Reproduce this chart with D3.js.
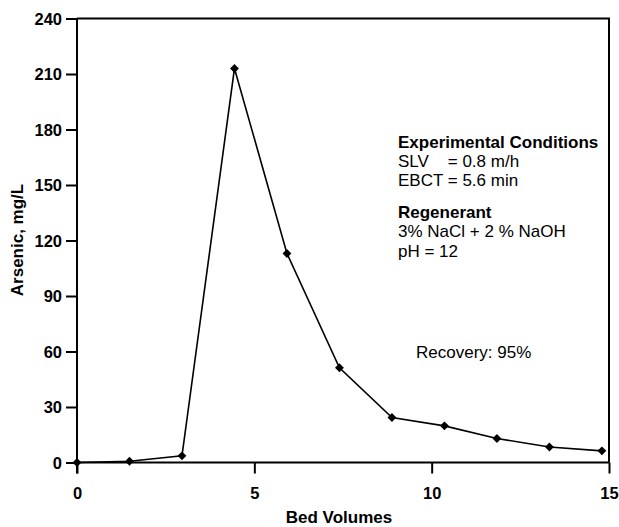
<!DOCTYPE html>
<html>
<head>
<meta charset="utf-8">
<script src="https://cdn.jsdelivr.net/npm/d3@7"></script>
<style>
  body { margin: 0; background: #fff; }
  text { font-family: "Liberation Sans", Arial, sans-serif; fill: #000; }
</style>
</head>
<body>
<svg id="chart" width="619" height="527"></svg>
<script>
// data
var bedVolumes = [0, 1.48, 2.96, 4.44, 5.92, 7.4, 8.88, 10.36, 11.84, 13.32, 14.8]
var arsenic = [0, 0.7, 3.6, 213, 113, 51.2, 24.3, 19.8, 13, 8.4, 6.3]
var xTicks = [0, 5, 10, 15]
var yTicks = [0, 30, 60, 90, 120, 150, 180, 210, 240]
var conditions = [
    { text: "Experimental Conditions", bold: true },
    { text: "SLV\u00a0\u00a0\u00a0 = 0.8 m/h", bold: false },
    { text: "EBCT = 5.6 min", bold: false },
    { text: "Regenerant", bold: true, gap: true },
    { text: "3% NaCl + 2 % NaOH", bold: false },
    { text: "pH = 12", bold: false }
]

var svg = d3.select('#chart')
var mLeft = 77, mRight = 609, mTop = 18.5, mBottom = 462.5
var tickLen = 11

var x = d3.scaleLinear().domain([0, 15]).range([mLeft, mRight])
var y = d3.scaleLinear().domain([0, 240]).range([mBottom, mTop])

// frame (top + right sides)
svg.append('path')
    .attr('d', 'M' + mLeft + ',' + mTop + 'H' + mRight + 'V' + mBottom)
    .attr('fill', 'none')
    .attr('stroke', '#000')
    .attr('stroke-width', 2)

// y axis
var yAxis = svg.append('g')
    .attr('transform', 'translate(' + mLeft + ',0)')
    .call(d3.axisLeft(y).tickValues(yTicks).tickSize(tickLen).tickPadding(4))
yAxis.select('.domain').attr('stroke-width', 2).attr('d', 'M0,' + mTop + 'V' + (mBottom + tickLen))
yAxis.selectAll('.tick line').attr('stroke-width', 2)
yAxis.selectAll('.tick text')
    .attr('dy', '0.36em')
    .style('font-size', '16.5px').style('font-weight', 'bold')
    .style('font-family', '"Liberation Sans", Arial, sans-serif')

// x axis
var xAxis = svg.append('g')
    .attr('transform', 'translate(0,' + mBottom + ')')
    .call(d3.axisBottom(x).tickValues(xTicks).tickSize(tickLen).tickPadding(14))
xAxis.select('.domain').attr('stroke-width', 2).attr('d', 'M' + mLeft + ',0H' + mRight)
xAxis.selectAll('.tick line').attr('stroke-width', 2)
xAxis.selectAll('.tick text')
    .style('font-size', '16.5px').style('font-weight', 'bold')
    .style('font-family', '"Liberation Sans", Arial, sans-serif')

// axis titles
svg.append('text')
    .attr('x', 339).attr('y', 523)
    .attr('text-anchor', 'middle')
    .style('font-size', '17px').style('font-weight', 'bold')
    .text('Bed Volumes')

svg.append('text')
    .attr('transform', 'translate(23,240) rotate(-90)')
    .attr('text-anchor', 'middle')
    .style('font-size', '17px').style('font-weight', 'bold')
    .text('Arsenic, mg/L')

// the line
var pts = bedVolumes.map(function (d, i) { return { bv: d, as: arsenic[i] } })

svg.append('path')
    .datum(pts)
    .attr('fill', 'none')
    .attr('stroke', '#000')
    .attr('stroke-width', 1.6)
    .attr('d', d3.line()
        .x(function (d) { return x(d.bv) })
        .y(function (d) { return y(d.as) })
    )

// diamond markers
svg.selectAll('.marker')
    .data(pts)
    .enter().append('path')
    .attr('class', 'marker')
    .attr('d', d3.symbol().type(d3.symbolDiamond2).size(50))
    .attr('transform', function (d) { return 'translate(' + x(d.bv) + ',' + y(d.as) + ')' })
    .attr('fill', '#000')

// annotation block
var yy = 147.5
conditions.forEach(function (c, i) {
    if (i > 0) yy += c.gap ? 32 : 19.3
    svg.append('text')
        .attr('x', 398).attr('y', yy)
        .style('font-size', '17px')
        .style('font-weight', c.bold ? 'bold' : 'normal')
        .text(c.text)
})

svg.append('text')
    .attr('x', 416).attr('y', 358)
    .style('font-size', '17px')
    .text('Recovery: 95%')
</script>
</body>
</html>
